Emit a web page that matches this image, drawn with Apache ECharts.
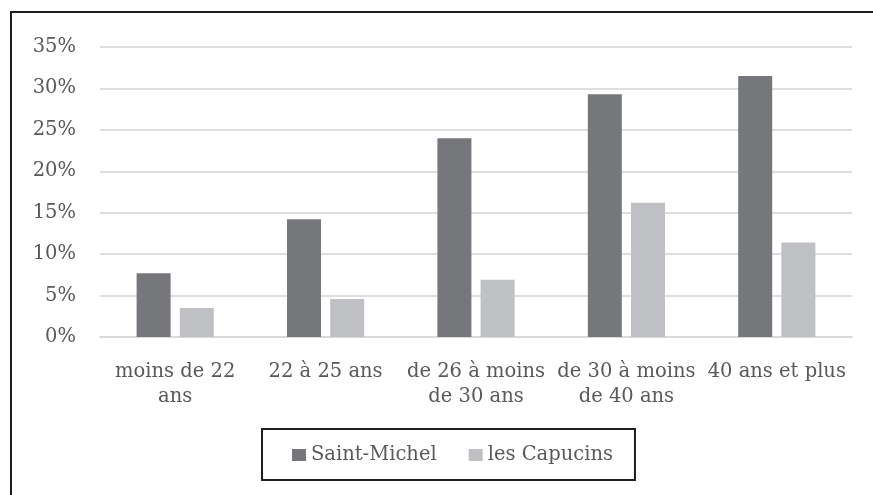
<!DOCTYPE html>
<html>
<head>
<meta charset="utf-8">
<script src="https://cdn.jsdelivr.net/npm/echarts@6/dist/echarts.min.js"></script>
<style>
html,body{margin:0;padding:0;background:#fff;}
#chart{width:873px;height:495px;}
</style>
</head>
<body>
<div id="chart"></div>
<script>
const categories = ["moins de 22\nans", "22 à 25 ans", "de 26 à moins\nde 30 ans", "de 30 à moins\nde 40 ans", "40 ans et plus"];
const seriesNames = ["Saint-Michel", "les Capucins"];
const saintMichel = [7.7, 14.2, 24.0, 29.3, 31.5];
const capucins = [3.5, 4.6, 6.9, 16.2, 11.4];
const yTicks = [0, 5, 10, 15, 20, 25, 30, 35];

const FONT = "DejaVu Serif";
const TXT = "#595959";
const chart = echarts.init(document.getElementById('chart'), null, {renderer: 'canvas'});
chart.setOption({
  animation: false,
  backgroundColor: '#ffffff',
  textStyle: {fontFamily: FONT},
  grid: {left: 100, right: 21, top: 47, bottom: 158, containLabel: false},
  legend: {
    left: 262, top: 429,
    padding: [16, 22, 15, 30],
    borderColor: '#1f1f1f', borderWidth: 2,
    itemWidth: 14, itemHeight: 12, itemGap: 32,
    icon: 'rect',
    textStyle: {fontFamily: FONT, fontSize: 19.5, color: TXT},
    data: seriesNames
  },
  xAxis: {
    type: 'category',
    data: categories,
    axisLine: {show: true, lineStyle: {color: '#d9d9d9', width: 2}},
    axisTick: {show: false},
    axisLabel: {fontFamily: FONT, fontSize: 19.5, color: TXT, margin: 22, lineHeight: 25, interval: 0}
  },
  yAxis: {
    type: 'value',
    min: yTicks[0], max: yTicks[yTicks.length - 1], interval: 5,
    axisLine: {show: false},
    axisTick: {show: false},
    splitLine: {lineStyle: {color: '#dedede', width: 2}},
    axisLabel: {fontFamily: FONT, fontSize: 19.5, color: TXT, margin: 24, formatter: v => v + '%'}
  },
  series: [
    {name: seriesNames[0], type: 'bar', data: saintMichel, barWidth: 34, barGap: '27%',
     itemStyle: {color: '#76777b'}},
    {name: seriesNames[1], type: 'bar', data: capucins, barWidth: 34,
     itemStyle: {color: '#bfc0c4'}}
  ],
  graphic: [
    {type: 'line', shape: {x1: 10, y1: 12, x2: 873, y2: 12}, style: {stroke: '#1f1f1f', lineWidth: 2}},
    {type: 'line', shape: {x1: 11, y1: 12, x2: 11, y2: 495}, style: {stroke: '#1f1f1f', lineWidth: 2}}
  ]
});
</script>
</body>
</html>
